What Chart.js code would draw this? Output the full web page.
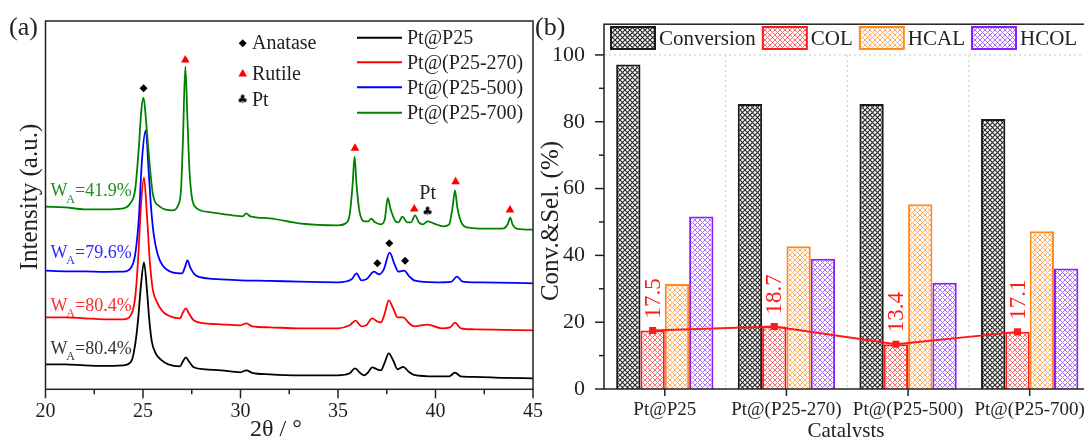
<!DOCTYPE html>
<html>
<head>
<meta charset="utf-8">
<script src="https://cdn.jsdelivr.net/npm/chart.js@4.4.1/dist/chart.umd.min.js"></script>
<style>
  html, body { margin: 0; padding: 0; background: #fff; width: 1084px; height: 437px; overflow: hidden; }
  #xrd { position: absolute; left: 0; top: 0; }
  #perf { position: absolute; left: 530px; top: 0; }
</style>
</head>
<body>
<canvas id="xrd" width="545" height="437"></canvas>
<canvas id="perf" width="570" height="437"></canvas>
<script>
// ---- (a) XRD patterns: 2theta (deg) and stacked intensity (a.u.) as plotted ----
const p25X = [20, 21, 22, 23, 24, 24.4, 24.6, 24.75, 24.9, 25.05, 25.2, 25.32, 25.45, 25.65, 25.9, 26.3, 26.9, 27.05, 27.2, 27.35, 27.6, 28.2, 29.0, 30.0, 30.3, 30.6, 31.5, 33.0, 35.0, 35.6, 35.87, 36.15, 36.35, 36.55, 36.75, 37.0, 37.2, 37.4, 37.6, 37.85, 38.05, 38.35, 38.6, 38.9, 40.0, 40.7, 41.0, 41.3, 42.0, 43.5, 45.0];
const p25Y = [25, 25, 24, 23.5, 24, 28, 45, 70, 105, 127, 100, 70, 48, 36, 30, 25, 23, 28, 32, 28, 22, 20, 19, 17, 19, 16.5, 15, 14, 14, 16, 21, 16, 14, 17, 22, 20, 19, 27, 36, 28, 20, 22.5, 18, 14.5, 13, 13, 16.6, 13, 12.5, 11.5, 11];

const p270X = [20, 21, 22, 23, 24, 24.4, 24.6, 24.75, 24.9, 25.05, 25.2, 25.35, 25.5, 25.7, 26.0, 26.4, 26.9, 27.05, 27.2, 27.35, 27.6, 28.2, 29.0, 30.0, 30.3, 30.6, 31.5, 33.0, 35.0, 35.6, 35.9, 36.2, 36.45, 36.75, 37.0, 37.2, 37.4, 37.6, 37.85, 38.05, 38.35, 38.6, 38.9, 39.6, 40.3, 40.75, 41.0, 41.3, 42.0, 43.5, 45.0];
const p270Y = [72, 72, 71, 70, 70, 75, 92, 130, 185, 212, 175, 128, 100, 88, 78, 73, 71, 77, 81, 76, 69, 66, 65, 64, 66, 63, 62, 61, 61, 64, 68.6, 63, 64, 71, 68, 67, 76, 89, 80, 72, 72, 67, 63, 64.7, 61, 62, 66.6, 61, 60, 59.5, 59];

const p500X = [20, 21, 22, 23, 24, 24.4, 24.6, 24.78, 24.95, 25.14, 25.3, 25.42, 25.55, 25.75, 26.0, 26.5, 27.0, 27.15, 27.28, 27.42, 27.7, 28.3, 29.0, 30.0, 31.5, 33.0, 35.0, 35.7, 35.95, 36.2, 36.45, 36.85, 37.1, 37.35, 37.65, 37.9, 38.1, 38.4, 38.65, 38.95, 40.0, 40.8, 41.1, 41.4, 42.0, 44.0, 45.0];
const p500Y = [118.6, 118, 118, 117.5, 117.6, 122, 135, 169, 230, 259, 215, 180, 155, 135, 124, 117, 116, 122, 129, 122, 114, 111, 110, 109, 108.5, 107.6, 107, 110, 116, 109, 110, 117.6, 115, 120, 136.6, 125, 117.6, 118.6, 113, 108.6, 107, 107.5, 112.6, 107.6, 107, 106.5, 106];

const p700X = [20, 21, 22, 23, 24, 24.35, 24.6, 24.78, 24.92, 25.03, 25.15, 25.28, 25.5, 25.85, 26.5, 26.8, 26.95, 27.05, 27.17, 27.28, 27.38, 27.5, 27.7, 28.5, 29.6, 30.1, 30.3, 30.5, 31.5, 33.0, 35.0, 35.4, 35.6, 35.75, 35.85, 35.95, 36.1, 36.35, 36.55, 36.7, 36.9, 37.2, 37.4, 37.55, 37.7, 37.95, 38.1, 38.3, 38.55, 38.75, 38.95, 39.15, 39.35, 39.6, 39.9, 40.4, 40.7, 40.88, 41.0, 41.12, 41.3, 41.6, 42.6, 43.5, 43.7, 43.83, 43.95, 44.2, 45.0];
const p700Y = [182.6, 182, 180, 180, 181, 186, 200, 240, 280, 291.7, 270, 239, 196, 183, 179, 184, 200, 250, 322.6, 270, 220, 193, 182, 177, 174, 173, 176, 173, 171, 166, 164, 166, 175, 205, 232.6, 205, 178, 168, 168, 170.6, 167, 165, 170, 191.3, 180, 168, 167, 172.6, 167, 167, 174, 167, 165, 168, 166, 163, 165, 182.6, 199, 182, 168, 162, 160.7, 161, 165, 171.7, 165, 160.5, 159.7];

const sampleNames = ["Pt@P25", "Pt@(P25-270)", "Pt@(P25-500)", "Pt@(P25-700)"];
const anatasePos = [25.03, 37.02, 37.63, 38.44];
const anataseY = [301, 126, 146, 128.6];
const rutilePos = [27.17, 35.87, 38.91, 41.03, 43.82];
const rutileY = [329.3, 241, 180.3, 207.6, 179.3];
const ptPos = [39.6];
const ptY = [178];
const waText = ["80.4%", "80.4%", "79.6%", "41.9%"];
const waY = [40, 83.3, 136, 197.6];
const xrdTicks = [20, 25, 30, 35, 40, 45];

// ---- (b) catalytic performance ----
const catalysts = ["Pt@P25", "Pt@(P25-270)", "Pt@(P25-500)", "Pt@(P25-700)"];
const conversion = [97.1, 85.3, 85.3, 80.8];
const colSel = [17.5, 18.7, 13.4, 17.1];
const hcalSel = [31.4, 42.7, 55.3, 47.2];
const hcolSel = [51.6, 39.0, 31.8, 36.1];
const perfTicks = [0, 20, 40, 60, 80, 100];

const serif = "'Liberation Serif', 'Times New Roman', serif";
const ink = "#222";
const lineColors = ["#000000", "#ff0000", "#0000ff", "#008000"];

function pts(xs, ys) { return xs.map((x, i) => ({ x, y: ys[i] })); }

// club glyph used as a point style for Pt
const club = document.createElement("canvas");
club.width = 12; club.height = 12;
(() => {
  const c = club.getContext("2d");
  c.fillStyle = "#000";
  c.font = "12px 'DejaVu Sans'";
  c.textAlign = "center"; c.textBaseline = "middle";
  c.fillText("\u2663", 6, 6.5);
})();

function waLabel(ctx, x, y, pct, color) {
  ctx.fillStyle = color;
  ctx.textBaseline = "middle";
  ctx.textAlign = "left";
  ctx.font = `18px ${serif}`;
  ctx.fillText("W", x, y);
  let w = ctx.measureText("W").width;
  ctx.font = `12px ${serif}`;
  ctx.fillText("A", x + w - 1, y + 8);
  w += ctx.measureText("A").width - 1;
  ctx.font = `18px ${serif}`;
  ctx.fillText("=" + pct, x + w, y);
}

const xrdDecor = {
  id: "xrdDecor",
  afterDraw(chart) {
    const { ctx, chartArea: a, scales: { x, y } } = chart;
    ctx.save();
    ctx.strokeStyle = ink; ctx.lineWidth = 1.5;
    ctx.strokeRect(a.left, a.top, a.right - a.left, a.bottom - a.top);
    xrdTicks.forEach((v, i) => {
      let px = x.getPixelForValue(v);
      ctx.beginPath(); ctx.moveTo(px, a.bottom); ctx.lineTo(px, a.bottom + 9); ctx.stroke();
      if (i < xrdTicks.length - 1) {
        px = x.getPixelForValue(v + 2.5);
        ctx.beginPath(); ctx.moveTo(px, a.bottom); ctx.lineTo(px, a.bottom + 5); ctx.stroke();
      }
    });

    ctx.fillStyle = ink;
    ctx.font = `24px ${serif}`;
    ctx.textAlign = "center"; ctx.textBaseline = "alphabetic";
    ctx.fillText("2\u03b8 / \u00b0", 276, 436);
    ctx.save();
    ctx.translate(30, 197); ctx.rotate(-Math.PI / 2);
    ctx.textBaseline = "middle";
    ctx.font = `25px ${serif}`;
    ctx.fillText("Intensity (a.u.)", 0, 0);
    ctx.restore();
    ctx.font = `26px ${serif}`;
    ctx.textAlign = "left"; ctx.textBaseline = "middle";
    ctx.fillText("(a)", 9, 28);

    // phase key
    ctx.font = `20px ${serif}`;
    ctx.fillStyle = "#000";
    Chart.helpers.drawPoint(ctx, { pointStyle: "rectRot", radius: 4, borderWidth: 0 }, 242.7, 43.3);
    ctx.fillStyle = "#ff0000";
    Chart.helpers.drawPoint(ctx, { pointStyle: "triangle", radius: 5, borderWidth: 0 }, 242.7, 74);
    ctx.drawImage(club, 236.7, 93.3);
    ctx.fillStyle = ink;
    ctx.fillText("Anatase", 252, 44);
    ctx.fillText("Rutile", 252, 75);
    ctx.fillText("Pt", 252, 100.5);

    // sample key
    const rows = [37.7, 62.3, 87.3, 112.7];
    sampleNames.forEach((n, i) => {
      ctx.strokeStyle = lineColors[i]; ctx.lineWidth = 2;
      ctx.beginPath(); ctx.moveTo(357, rows[i]); ctx.lineTo(402, rows[i]); ctx.stroke();
      ctx.fillStyle = ink;
      ctx.fillText(n, 407, rows[i] + 1);
    });

    // Pt reflection label
    ctx.textAlign = "center";
    ctx.fillText("Pt", x.getPixelForValue(ptPos[0]), y.getPixelForValue(ptY[0]) - 18);

    const waColors = ["#333333", "#ff2a2a", "#2a2aff", "#1e8c1e"];
    waText.forEach((t, i) => {
      waLabel(ctx, x.getPixelForValue(20.25), y.getPixelForValue(waY[i]), t, waColors[i]);
    });
    ctx.restore();
  }
};

function line(xs, ys, color, label, order) {
  return {
    label, data: pts(xs, ys), borderColor: color, borderWidth: 1.8,
    pointRadius: 0, cubicInterpolationMode: "monotone", fill: false, order
  };
}
function marks(xs, ys, style, color, r) {
  return {
    type: "scatter", data: pts(xs, ys), pointStyle: style, pointRadius: r,
    pointBackgroundColor: color, pointBorderWidth: 0, showLine: false, order: 0
  };
}

new Chart(document.getElementById("xrd"), {
  type: "line",
  data: {
    datasets: [
      line(p25X, p25Y, lineColors[0], sampleNames[0], 4),
      line(p270X, p270Y, lineColors[1], sampleNames[1], 3),
      line(p500X, p500Y, lineColors[2], sampleNames[2], 2),
      line(p700X, p700Y, lineColors[3], sampleNames[3], 1),
      marks(anatasePos, anataseY, "rectRot", "#000", 4),
      marks(rutilePos, rutileY, "triangle", "#ff0000", 5),
      marks(ptPos, ptY, club, "#000", 6)
    ]
  },
  options: {
    responsive: false,
    animation: false,
    layout: { padding: { left: 0, right: 12, top: 21, bottom: 0 } },
    plugins: { legend: { display: false }, tooltip: { enabled: false } },
    scales: {
      x: {
        type: "linear", min: 20, max: 45,
        grid: { display: false }, border: { display: false },
        ticks: { stepSize: 5, padding: 2, maxRotation: 0, color: ink, font: { family: serif, size: 20 } },
        afterFit: (s) => { s.height = 47.7; }
      },
      y: {
        min: 0, max: 368.3,
        grid: { display: false }, border: { display: false },
        ticks: { display: false },
        afterFit: (s) => { s.width = 45.5; }
      }
    }
  },
  plugins: [xrdDecor]
});

// ---- hatched fills for (b) ----
function hatch(color, width) {
  const t = document.createElement("canvas");
  t.width = 5; t.height = 5;
  const c = t.getContext("2d");
  c.fillStyle = "#fff"; c.fillRect(0, 0, 5, 5);
  c.strokeStyle = color; c.lineWidth = width;
  c.beginPath();
  c.moveTo(0, 0); c.lineTo(5, 5);
  c.moveTo(5, 0); c.lineTo(0, 5);
  c.stroke();
  return document.getElementById("perf").getContext("2d").createPattern(t, "repeat");
}
const barBorders = ["#1a1a1a", "#ff1a1a", "#ff8a1e", "#8a1cff"];
const barFills = [hatch("#2a2a2a", 1.2), hatch("#ff6a6a", 1), hatch("#ffac60", 1), hatch("#b070ff", 1)];
const barNames = ["Conversion", "COL", "HCAL", "HCOL"];

const perfDecor = {
  id: "perfDecor",
  afterDatasetsUpdate(chart) {
    // sit the COL selectivity markers on the COL bars
    const colBars = chart.getDatasetMeta(1).data;
    chart.getDatasetMeta(4).data.forEach((p, i) => { p.x = colBars[i].x; });
  },
  beforeDatasetsDraw(chart) {
    const { ctx, chartArea: a, scales: { x, y } } = chart;
    ctx.save();
    ctx.strokeStyle = "#c4c4c4"; ctx.lineWidth = 1; ctx.setLineDash([2, 3]);
    const top = y.getPixelForValue(100);
    ctx.beginPath(); ctx.moveTo(a.left, top); ctx.lineTo(a.right, top); ctx.stroke();
    const half = (x.getPixelForValue(1) - x.getPixelForValue(0)) / 2;
    for (let i = 0; i < catalysts.length - 1; i++) {
      const px = x.getPixelForValue(i) + half;
      ctx.beginPath(); ctx.moveTo(px, top); ctx.lineTo(px, a.bottom); ctx.stroke();
    }
    ctx.restore();
  },
  afterDraw(chart) {
    const { ctx, chartArea: a, scales: { x, y } } = chart;
    ctx.save();
    ctx.strokeStyle = ink; ctx.lineWidth = 1.5;
    ctx.strokeRect(a.left, a.top, a.right - a.left, a.bottom - a.top);
    perfTicks.forEach((v, i) => {
      let py = y.getPixelForValue(v);
      ctx.beginPath(); ctx.moveTo(a.left, py); ctx.lineTo(a.left - 9, py); ctx.stroke();
      if (i < perfTicks.length - 1) {
        py = y.getPixelForValue(v + 10);
        ctx.beginPath(); ctx.moveTo(a.left, py); ctx.lineTo(a.left - 5, py); ctx.stroke();
      }
    });
    catalysts.forEach((c, i) => {
      const px = x.getPixelForValue(i);
      ctx.beginPath(); ctx.moveTo(px, a.bottom); ctx.lineTo(px, a.bottom + 7); ctx.stroke();
    });

    // COL value labels
    const colPts = chart.getDatasetMeta(4).data;
    ctx.fillStyle = "#ff1a1a";
    ctx.font = `23px ${serif}`;
    colPts.forEach((p, i) => {
      ctx.save();
      ctx.translate(p.x, p.y - 12); ctx.rotate(-Math.PI / 2);
      ctx.textAlign = "left"; ctx.textBaseline = "middle";
      ctx.fillText(colSel[i].toFixed(1), 0, 1);
      ctx.restore();
    });

    // legend
    ctx.font = `21px ${serif}`;
    ctx.textBaseline = "middle"; ctx.textAlign = "left";
    let lx = 81;
    barNames.forEach((n, i) => {
      ctx.fillStyle = barFills[i];
      ctx.fillRect(lx, 27, 44, 22);
      ctx.strokeStyle = barBorders[i]; ctx.lineWidth = 2;
      ctx.strokeRect(lx, 27, 44, 22);
      ctx.fillStyle = ink;
      ctx.fillText(n, lx + 48, 39);
      lx += 48 + ctx.measureText(n).width + 7;
    });

    ctx.fillStyle = ink;
    ctx.font = `26px ${serif}`;
    ctx.fillText("(b)", 5, 28);
    ctx.font = `21px ${serif}`;
    ctx.textAlign = "center"; ctx.textBaseline = "alphabetic";
    ctx.fillText("Catalysts", 316, 437);
    ctx.save();
    ctx.translate(21, 221); ctx.rotate(-Math.PI / 2);
    ctx.textBaseline = "middle";
    ctx.font = `25px ${serif}`;
    ctx.fillText("Conv.&Sel. (%)", 0, 0);
    ctx.restore();
    ctx.restore();
  }
};

new Chart(document.getElementById("perf"), {
  type: "bar",
  data: {
    labels: catalysts,
    datasets: [
      { label: barNames[0], data: conversion, backgroundColor: barFills[0], borderColor: barBorders[0], borderWidth: 2, order: 1 },
      { label: barNames[1], data: colSel, backgroundColor: barFills[1], borderColor: barBorders[1], borderWidth: 2, order: 1 },
      { label: barNames[2], data: hcalSel, backgroundColor: barFills[2], borderColor: barBorders[2], borderWidth: 2, order: 1 },
      { label: barNames[3], data: hcolSel, backgroundColor: barFills[3], borderColor: barBorders[3], borderWidth: 2, order: 1 },
      {
        type: "line", label: "COL sel.", data: colSel, borderColor: "#ff1a1a", borderWidth: 2,
        pointStyle: "rect", pointRadius: 5, pointBackgroundColor: "#ff1a1a", pointBorderWidth: 0,
        tension: 0, fill: false, order: 0
      }
    ]
  },
  options: {
    responsive: false,
    animation: false,
    datasets: { bar: { categoryPercentage: 0.8, barPercentage: 1.0 } },
    layout: { padding: { left: 0, right: 9.5, top: 21, bottom: 0 } },
    plugins: { legend: { display: false }, tooltip: { enabled: false } },
    scales: {
      x: {
        grid: { display: false }, border: { display: false },
        ticks: { padding: 2, maxRotation: 0, autoSkip: false, color: ink, font: { family: serif, size: 19 } },
        afterFit: (s) => { s.height = 48; }
      },
      y: {
        min: 0, max: 109.2,
        grid: { display: false }, border: { display: false },
        ticks: { stepSize: 20, includeBounds: false, padding: 11, color: ink, font: { family: serif, size: 22 } },
        afterFit: (s) => { s.width = 74; }
      }
    }
  },
  plugins: [perfDecor]
});
</script>
</body>
</html>
